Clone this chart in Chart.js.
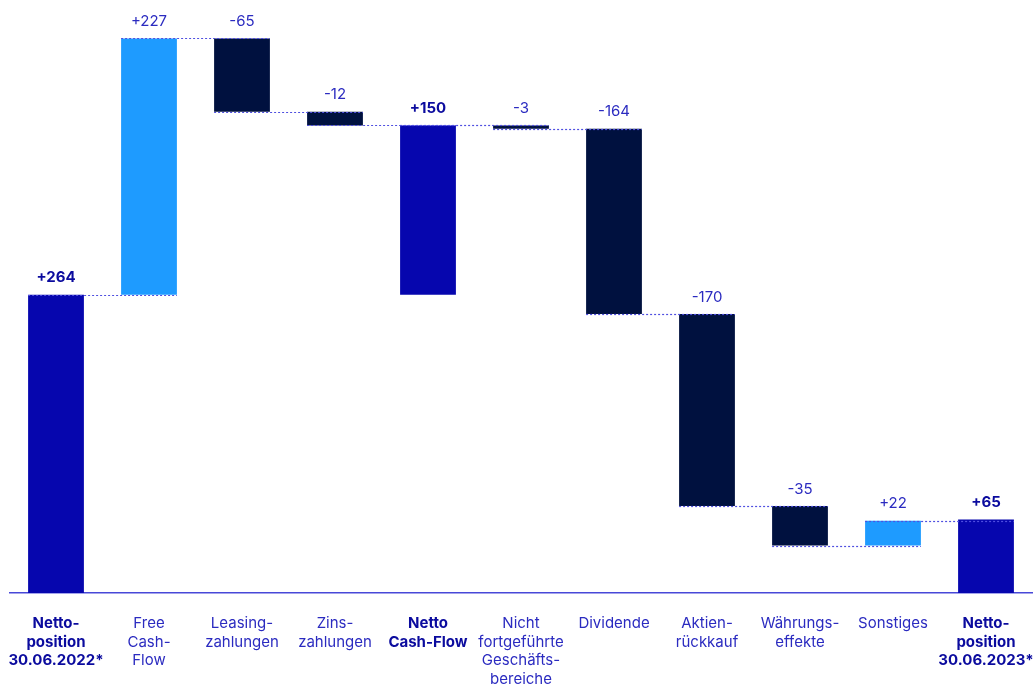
<!DOCTYPE html>
<html>
<head>
<meta charset="utf-8">
<script src="https://cdn.jsdelivr.net/npm/chart.js@4"></script>
<style>
  html, body { margin: 0; padding: 0; background: #fff; }
  #wrap { width: 1033px; height: 686px; }
</style>
</head>
<body>
<div id="wrap"><canvas id="myChart"></canvas></div>
<script>
'use strict';

const categories = [
  ['Netto-', 'position', '30.06.2022*'],
  ['Free', 'Cash-', 'Flow'],
  ['Leasing-', 'zahlungen'],
  ['Zins-', 'zahlungen'],
  ['Netto', 'Cash-Flow'],
  ['Nicht', 'fortgeführte', 'Geschäfts-', 'bereiche'],
  ['Dividende'],
  ['Aktien-', 'rückkauf'],
  ['Währungs-', 'effekte'],
  ['Sonstiges'],
  ['Netto-', 'position', '30.06.2023*'],
];
const values = [264, 227, -65, -12, 150, -3, -164, -170, -35, 22, 65];
// total = bar from zero, delta = step on the running sum, sub = subtotal covering the last steps
const kinds = ['total', 'delta', 'delta', 'delta', 'sub', 'delta', 'delta', 'delta', 'delta', 'delta', 'total'];

const colTotal = '#0606AE';
const colUp = '#1E9BFF';
const colDown = '#00113F';

// build floating bars from the running sum
let run = 0;
const bars = [];
const levels = [];
for (let i = 0; i < values.length; i++) {
  if (kinds[i] === 'total') {
    bars.push([0, values[i]]);
    run = values[i];
  } else if (kinds[i] === 'sub') {
    bars.push([run - values[i], run]);
  } else {
    bars.push([run, run + values[i]]);
    run += values[i];
  }
  levels.push(run);
}
const colors = values.map((v, i) => kinds[i] !== 'delta' ? colTotal : (v > 0 ? colUp : colDown));
const fmt = v => (v > 0 ? '+' : '') + v;

const waterfallExtras = {
  id: 'waterfallExtras',
  afterDatasetsDraw(chart) {
    const ctx = chart.ctx;
    const meta = chart.getDatasetMeta(0);
    const y = chart.scales.y;
    ctx.save();
    // dotted connectors
    ctx.strokeStyle = '#4F4FE0';
    ctx.lineWidth = 1.2;
    ctx.setLineDash([2, 2]);
    for (let i = 0; i < meta.data.length - 1; i++) {
      const a = meta.data[i];
      const b = meta.data[i + 1];
      const py = Math.round(y.getPixelForValue(levels[i])) + 0.5;
      ctx.beginPath();
      ctx.moveTo(a.x - a.width / 2, py);
      ctx.lineTo(b.x + b.width / 2, py);
      ctx.stroke();
    }
    ctx.setLineDash([]);
    // value labels
    ctx.textAlign = 'center';
    ctx.textBaseline = 'alphabetic';
    meta.data.forEach((bar, i) => {
      const top = y.getPixelForValue(Math.max(bars[i][0], bars[i][1]));
      const bold = kinds[i] !== 'delta';
      ctx.font = (bold ? '700 ' : '400 ') + '15px Inter';
      ctx.fillStyle = bold ? '#0B0B9E' : '#2B2BC0';
      ctx.fillText(fmt(values[i]), bar.x, top - 12.5);
    });
    ctx.restore();
  }
};

new Chart(document.getElementById('myChart'), {
  type: 'bar',
  data: {
    labels: categories,
    datasets: [{
      data: bars,
      backgroundColor: colors,
      borderWidth: 0,
      borderSkipped: false,
      categoryPercentage: 1,
      barPercentage: 0.6,
    }]
  },
  options: {
    responsive: true,
    maintainAspectRatio: false,
    animation: false,
    layout: { padding: { left: 9.5, right: 0.5, top: 0, bottom: 0 } },
    plugins: {
      legend: { display: false },
      tooltip: { enabled: false },
    },
    scales: {
      x: {
        grid: { display: false, drawTicks: false },
        border: { display: true, color: '#4848D8', width: 1.5 },
        afterFit: scale => {
          scale.height = 93;
          scale.paddingLeft = 0;
          scale.paddingRight = 0;
        },
        ticks: {
          autoSkip: false,
          maxRotation: 0,
          minRotation: 0,
          padding: 21,
          color: ctx => kinds[ctx.index] !== 'delta' ? '#0B0B9E' : '#2B2BC0',
          font: ctx => ({
            family: 'Inter',
            size: 15,
            lineHeight: 1.25,
            weight: kinds[ctx.index] !== 'delta' ? '700' : '400',
          }),
        },
      },
      y: {
        display: false,
        min: 0,
        max: 525,
      }
    }
  },
  plugins: [waterfallExtras]
});
</script>
</body>
</html>
